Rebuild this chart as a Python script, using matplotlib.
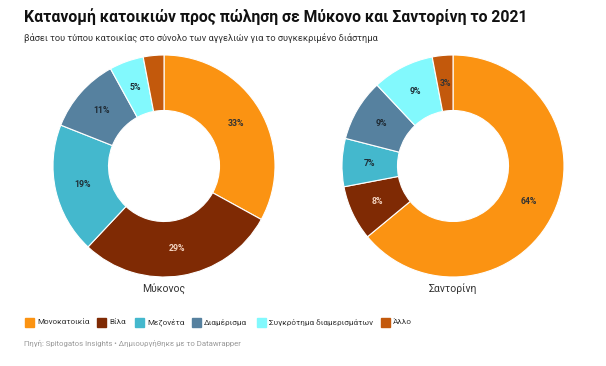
import matplotlib
matplotlib.use("Agg")
import matplotlib.pyplot as plt
import numpy as np
from matplotlib.patches import Rectangle

plt.rcParams['font.family'] = ['Roboto', 'DejaVu Sans']

categories = ["Μονοκατοικία", "Βίλα", "Μεζονέτα", "Διαμέρισμα",
              "Συγκρότημα διαμερισμάτων", "Άλλο"]
mykonos = [33, 29, 19, 11, 5, 3]
santorini = [64, 8, 7, 9, 9, 3]
islands = ["Μύκονος", "Σαντορίνη"]

colors = ["#fb9312", "#7f2a04", "#44b8cd", "#56819f", "#82f9fd", "#c3590c"]
label_colors = ["#333333", "#f3d3c0", "#1f3038", "#1f2a33", "#1f3038", "#333333"]

W, H = 606, 366
fig = plt.figure(figsize=(W / 100, H / 100), dpi=100)
fig.patch.set_facecolor("white")


def px_axes(cx, cy, r):
    return fig.add_axes([(cx - r) / W, 1 - (cy + r) / H, 2 * r / W, 2 * r / H])


def donut(ax, values, hide_last=False):
    ax.pie(values, colors=colors, startangle=90, counterclock=False, radius=1,
           wedgeprops=dict(width=0.5, edgecolor="white", linewidth=0.8))
    total = sum(values)
    start = 90.0
    n = len(values)
    for i, (v, lc) in enumerate(zip(values, label_colors)):
        ang = start - v / total * 180
        start -= v / total * 360
        if hide_last and i == n - 1:
            continue  # Mykonos 'other' slice is unlabeled in the original
        x = 0.75 * np.cos(np.radians(ang))
        y = 0.75 * np.sin(np.radians(ang))
        ax.text(x, y, f"{v}%", ha="center", va="center", fontsize=6.3,
                color=lc, fontweight="bold")
    ax.set_xlim(-1, 1)
    ax.set_ylim(-1, 1)
    ax.set_aspect("auto")
    ax.axis("off")


ax1 = px_axes(164, 166, 111)
donut(ax1, mykonos, hide_last=True)
ax2 = px_axes(453, 166, 111)
donut(ax2, santorini)

for cx, name in zip([164, 453], islands):
    fig.text(cx / W, 1 - 289 / H, name, ha="center", va="center",
             fontsize=7.5, color="#333333")

fig.text(24 / W, 1 - 17 / H,
         "Κατανομή κατοικιών προς πώληση σε Μύκονο και Σαντορίνη το 2021",
         ha="left", va="center", fontsize=11.3, fontweight="bold", color="#111111")
fig.text(24 / W, 1 - 38 / H,
         "βάσει του τύπου κατοικίας στο σύνολο των αγγελιών για το συγκεκριμένο διάστημα",
         ha="left", va="center", fontsize=6.7, color="#333333")

# legend
leg_x = [25, 97, 135, 192, 257, 381]
for x, c, t in zip(leg_x, colors, categories):
    fig.patches.append(Rectangle((x / W, 1 - 326.5 / H), 9 / W, 9 / H,
                                 transform=fig.transFigure, color=c))
    fig.text((x + 12) / W, 1 - 322 / H, t, ha="left", va="center",
             fontsize=5.9, color="#333333")

fig.text(24 / W, 1 - 343 / H,
         "Πηγή: Spitogatos Insights • Δημιουργήθηκε με το Datawrapper",
         ha="left", va="center", fontsize=5.6, color="#999999")

fig.savefig("out.png", dpi=100)
